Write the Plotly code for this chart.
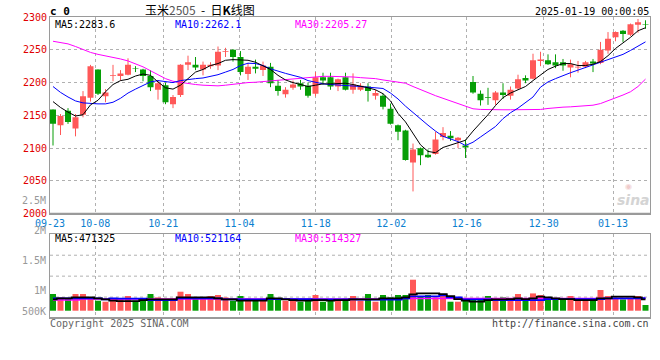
import plotly.graph_objects as go

# ---------------- data ----------------
opens = [2159, 2135, 2157, 2130, 2151, 2177, 2220, 2179, 2210, 2210,
         2212, 2222, 2220, 2210, 2189, 2196, 2167, 2181, 2227, 2227,
         2220, 2225, 2226, 2247, 2250, 2239, 2213, 2224, 2219, 2224,
         2195, 2182, 2192, 2199, 2195, 2183, 2208, 2208, 2194, 2208,
         2189, 2189, 2194, 2180, 2180, 2160, 2135, 2127, 2078, 2100,
         2090, 2091, 2117, 2119, 2112, 2104, 2201, 2183, 2178, 2173,
         2185, 2180, 2191, 2207, 2206, 2233, 2234, 2231, 2231, 2223,
         2223, 2224, 2232, 2230, 2249, 2269, 2279, 2273, 2288, 2289]
highs = [2159, 2152, 2161, 2152, 2187, 2227, 2220, 2190, 2227, 2219,
         2237, 2225, 2221, 2219, 2204, 2200, 2181, 2228, 2241, 2239,
         2232, 2231, 2255, 2253, 2251, 2248, 2230, 2235, 2232, 2230,
         2204, 2193, 2203, 2204, 2200, 2216, 2215, 2215, 2206, 2215,
         2214, 2199, 2199, 2189, 2183, 2168, 2136, 2128, 2107, 2101,
         2098, 2125, 2132, 2126, 2117, 2113, 2210, 2188, 2192, 2187,
         2199, 2194, 2212, 2211, 2244, 2247, 2243, 2243, 2236, 2235,
         2233, 2233, 2236, 2262, 2277, 2278, 2280, 2290, 2297, 2295]
lows = [2104, 2120, 2137, 2118, 2147, 2171, 2181, 2170, 2202, 2203,
        2211, 2216, 2202, 2187, 2174, 2167, 2161, 2178, 2219, 2219,
        2211, 2221, 2219, 2239, 2232, 2211, 2204, 2214, 2210, 2193,
        2180, 2177, 2189, 2189, 2177, 2179, 2197, 2189, 2187, 2188,
        2183, 2187, 2171, 2174, 2159, 2136, 2112, 2081, 2034, 2074,
        2085, 2090, 2112, 2111, 2100, 2085, 2183, 2165, 2166, 2166,
        2175, 2174, 2189, 2199, 2205, 2225, 2227, 2222, 2218, 2208,
        2215, 2222, 2216, 2228, 2244, 2263, 2262, 2271, 2276, 2282]
closes = [2137, 2149, 2140, 2147, 2179, 2225, 2183, 2185, 2211, 2214,
          2227, 2221, 2210, 2193, 2199, 2170, 2178, 2227, 2231, 2223,
          2227, 2227, 2247, 2248, 2239, 2216, 2224, 2221, 2226, 2199,
          2187, 2189, 2197, 2194, 2180, 2208, 2203, 2194, 2205, 2189,
          2197, 2195, 2187, 2184, 2163, 2137, 2125, 2082, 2098, 2089,
          2086, 2113, 2123, 2115, 2116, 2101, 2185, 2173, 2177, 2185,
          2181, 2189, 2205, 2203, 2234, 2235, 2228, 2226, 2226, 2228,
          2224, 2231, 2229, 2250, 2267, 2277, 2274, 2289, 2292, 2288]

ma5 = [2171, 2162, 2155, 2149, 2151, 2166, 2173, 2186, 2197, 2203,
       2205, 2210, 2213, 2211, 2201, 2192, 2190, 2196, 2206, 2216,
       2220, 2226, 2229, 2234, 2235, 2234, 2234, 2231, 2226, 2220,
       2211, 2204, 2200, 2197, 2194, 2196, 2198, 2198, 2199, 2199,
       2197, 2195, 2192, 2189, 2183, 2172, 2153, 2140, 2122, 2105,
       2095, 2093, 2101, 2105, 2109, 2112, 2126, 2138, 2151, 2165,
       2177, 2184, 2189, 2194, 2203, 2212, 2220, 2225, 2229, 2229,
       2226, 2226, 2228, 2232, 2241, 2252, 2260, 2269, 2279, 2283.6]
ma10 = [2194, 2185, 2178, 2172, 2169, 2168, 2167.5, 2167.5, 2170, 2176,
        2184, 2190, 2196, 2201, 2203, 2202, 2200, 2203, 2205, 2206,
        2207, 2209, 2212, 2216, 2220, 2226, 2229.5, 2229, 2226, 2221,
        2217, 2214, 2211, 2208, 2203, 2200, 2198, 2197, 2196.5, 2196,
        2195, 2194, 2193, 2192, 2191, 2184, 2175, 2164, 2154, 2145,
        2135, 2126, 2118, 2114, 2110, 2104, 2109, 2117, 2125, 2133,
        2145, 2154, 2161, 2169, 2178, 2193, 2201, 2206, 2211, 2215,
        2219, 2223, 2226, 2230, 2234, 2238, 2243, 2249, 2255, 2262.1]
ma30 = [2263, 2261, 2259, 2255, 2250, 2246, 2243, 2241, 2239, 2236,
        2233, 2229, 2224, 2218, 2212, 2206, 2202, 2200, 2199, 2197,
        2196, 2195.5, 2195, 2196, 2197.5, 2199, 2200, 2200.5, 2201.5, 2203,
        2204, 2204.5, 2205.5, 2206, 2207, 2209, 2209.5, 2209.5, 2209.5, 2209.5,
        2208.5, 2207.5, 2207, 2206, 2204, 2202, 2201, 2199, 2194, 2189,
        2184, 2180, 2176, 2172, 2167, 2163, 2160, 2159, 2158.5, 2158.5,
        2158.5, 2158.5, 2158.5, 2158.5, 2158.5, 2159, 2160.5, 2162, 2162.5, 2163,
        2163.5, 2164.5, 2165.5, 2168, 2172, 2176, 2181, 2186, 2194, 2205.27]

volumes = [696000, 555000, 513000, 696000, 696000, 555000, 417000, 375000, 513000, 513000,
           613000, 417000, 513000, 696000, 555000, 471000, 513000, 792000, 696000, 555000,
           513000, 613000, 655000, 555000, 417000, 613000, 513000, 417000, 513000, 696000,
           513000, 417000, 513000, 375000, 417000, 655000, 375000, 417000, 417000, 513000,
           613000, 417000, 696000, 375000, 655000, 555000, 655000, 655000, 1293000, 613000,
           655000, 555000, 696000, 375000, 375000, 417000, 471000, 471000, 613000, 417000,
           555000, 417000, 696000, 471000, 721000, 655000, 446000, 446000, 471000, 613000,
           471000, 471000, 471000, 863000, 613000, 513000, 471000, 513000, 613000, 238000]
vol_ma5 = [473000, 514000, 514000, 556000, 556000, 556000, 514000, 473000, 417000, 403000,
           403000, 403000, 445000, 473000, 473000, 473000, 473000, 556000, 556000, 556000,
           556000, 556000, 514000, 473000, 473000, 417000, 417000, 417000, 417000, 514000,
           514000, 473000, 445000, 417000, 417000, 445000, 445000, 417000, 445000, 445000,
           473000, 473000, 473000, 473000, 514000, 514000, 514000, 556000, 681000, 723000,
           723000, 723000, 695000, 612000, 487000, 417000, 375000, 375000, 445000, 473000,
           473000, 487000, 514000, 487000, 514000, 584000, 556000, 514000, 487000, 487000,
           445000, 445000, 445000, 514000, 514000, 584000, 584000, 584000, 556000, 471325]
vol_ma10 = [514000, 514000, 514000, 514000, 514000, 514000, 514000, 473000, 514000, 500000,
            500000, 500000, 500000, 445000, 445000, 445000, 445000, 514000, 514000, 514000,
            514000, 514000, 514000, 473000, 473000, 473000, 473000, 473000, 473000, 486000,
            486000, 486000, 486000, 486000, 486000, 473000, 473000, 473000, 473000, 473000,
            473000, 460000, 460000, 460000, 460000, 460000, 460000, 514000, 600000, 600000,
            600000, 600000, 640000, 556000, 556000, 473000, 473000, 473000, 473000, 445000,
            445000, 445000, 445000, 445000, 445000, 445000, 486000, 486000, 486000, 486000,
            486000, 486000, 486000, 486000, 514000, 514000, 514000, 514000, 514000, 521164]
vol_ma30 = [445000] * 4 + [486000] * 43 + [514000] * 32 + [514327]

date_labels = ["09-23", "10-08", "10-21", "11-04", "11-18", "12-02", "12-16", "12-30", "01-13"]
date_tick_pos = [-0.39, 5.64, 14.71, 24.87, 35.03, 45.11, 55.16, 65.43, 74.67]
price_ticks = [2000, 2050, 2100, 2150, 2200, 2250, 2300]
vol_axis_labels = ["2.5M", "2M", "1.5M", "1M", "500K"]
price_legend = ["MA5:2283.6", "MA10:2262.1", "MA30:2205.27"]
vol_legend = ["MA5:471325", "MA10:521164", "MA30:514327"]
title_name, title_code, title_rest = "玉米", "2505", "  -  日<b>K</b>线图"
symbol_text = "c 0"
stamp_text = "2025-01-19 00:00:05"
copyright_text = "Copyright 2025 SINA.COM"
url_text = "http://finance.sina.com.cn"

# ---------------- styling ----------------
RED = "#ff5858"
GREEN = "#069e06"
MONO = "DejaVu Sans Mono, monospace"
GRID = "#b0b0b0"
BORDER = "#9a9a9a"

idx = list(range(len(closes)))
colors = [RED if c >= o else GREEN for o, c in zip(opens, closes)]

fig = go.Figure()

# wicks
for col in (RED, GREEN):
    xs, ys = [], []
    for i, (h, l, c) in enumerate(zip(highs, lows, colors)):
        if c == col:
            xs += [i, i, None]
            ys += [l, h, None]
    fig.add_trace(go.Scatter(x=xs, y=ys, mode="lines", line=dict(color=col, width=1),
                             hoverinfo="skip", xaxis="x", yaxis="y"))

# bodies
fig.add_trace(go.Bar(x=idx, y=[abs(c - o) for o, c in zip(opens, closes)],
                     base=[min(o, c) for o, c in zip(opens, closes)],
                     width=0.8, marker=dict(color=colors, line=dict(width=0)),
                     xaxis="x", yaxis="y"))

# price MAs
for vals, col in ((ma30, "#ff00ff"), (ma10, "#0000ff"), (ma5, "#000000")):
    fig.add_trace(go.Scatter(x=idx, y=vals, mode="lines", line=dict(color=col, width=1),
                             xaxis="x", yaxis="y"))

# volume bars
fig.add_trace(go.Bar(x=idx, y=volumes, width=0.8, marker=dict(color=colors, line=dict(width=0)),
                     xaxis="x2", yaxis="y2"))
for vals, col, w in ((vol_ma30, "#ff00ff", 1.5), (vol_ma10, "#0000ff", 1.8), (vol_ma5, "#000000", 1.8)):
    fig.add_trace(go.Scatter(x=idx, y=vals, mode="lines", line=dict(color=col, width=w, shape="hvh"),
                             xaxis="x2", yaxis="y2"))

# ---------------- layout ----------------
W, H = 660, 360
ML, MR, MT, MB = 50, 10, 17, 42
PW, PH = W - ML - MR, H - MT - MB


def at(x, y):
    return dict(x=(x - ML) / PW, y=(H - MB - y) / PH, xref="paper", yref="paper")


price_dom = [(H - MB - 213.7) / PH, 1]
vol_dom = [0, (H - MB - 234.3) / PH]

xcommon = dict(range=[-0.4, 79.6], tickmode="array", tickvals=date_tick_pos,
               showgrid=True, gridcolor=GRID, griddash="dot", gridwidth=1,
               showline=True, mirror=True, linecolor=BORDER, linewidth=1,
               zeroline=False, ticks="", fixedrange=True, automargin=False)

fig.update_layout(
    width=W, height=H,
    margin=dict(l=ML, r=MR, t=MT, b=MB, autoexpand=False),
    paper_bgcolor="white", plot_bgcolor="white",
    showlegend=False, barmode="overlay",
    xaxis=dict(xcommon, anchor="y", ticktext=date_labels,
               tickfont=dict(family=MONO, size=10, color="#0a80d0")),
    xaxis2=dict(xcommon, anchor="y2", matches="x", showticklabels=False),
    yaxis=dict(domain=price_dom, range=[2000, 2300], tickmode="array", tickvals=price_ticks,
               tickfont=dict(family=MONO, size=10, color="#e00000"),
               showgrid=True, gridcolor=GRID, griddash="dot", automargin=False,
               showline=True, mirror=True, linecolor=BORDER, zeroline=False, ticks="",
               fixedrange=True),
    yaxis2=dict(domain=vol_dom, range=[-304000, 3186000], showticklabels=False,
                showgrid=False, showline=True, mirror=True, linecolor=BORDER,
                zeroline=False, ticks="", automargin=False, fixedrange=True),
)

shapes = []
for f in (0.25, 0.5, 0.75):
    shapes.append(dict(type="line", xref="x2 domain", yref="y2 domain", x0=0, x1=1, y0=f, y1=f,
                       line=dict(color=GRID, width=1, dash="dot"), layer="below"))
for yr in ("y domain", "y2 domain"):
    shapes.append(dict(type="line", xref="x domain", yref=yr, x0=0, x1=1, y0=0, y1=0,
                       line=dict(color=BORDER, width=2)))
fig.update_layout(shapes=shapes)

ann = []


def text(t, x, y, color="#000", size=10, anchor="left", family=MONO):
    d = at(x, y)
    d.update(text=t, showarrow=False, xanchor=anchor, yanchor="middle",
             font=dict(family=family, size=size, color=color))
    ann.append(d)


text("<b>" + symbol_text + "</b>", 48, 11.5, size=11)
text(title_name + "<span style='color:#555'>" + title_code + "</span>" + title_rest,
     200, 9.5, size=12, anchor="center", family="Noto Sans CJK SC")
text(stamp_text, 651, 11.5, anchor="right")
for t, x, c in zip(price_legend, (53, 173, 293), ("#000000", "#0000ff", "#ff00ff")):
    text(t, x, 24, color=c)
for t, x, c in zip(vol_legend, (53, 173, 293), ("#000000", "#0000ff", "#ff00ff")):
    text(t, x, 238, color=c)
for t, y in zip(vol_axis_labels, (200.5, 230.5, 260.5, 290, 311)):
    text(t, 48, y, color="#999999", anchor="right")
text(copyright_text, 48, 323.5, color="#666666")
text(url_text, 651, 323.5, color="#444444", anchor="right")
text("<b><i>sina</i></b>", 633, 200, color="#d4d4d4", size=14, anchor="center", family="DejaVu Sans")
text("◉", 628, 187, color="#f0cccc", size=8, anchor="center", family="DejaVu Sans")

fig.update_layout(annotations=ann)

fig.write_html("out.html", config={"displayModeBar": False, "staticPlot": True},
               post_script="document.body.style.margin='0px';document.body.style.overflow='hidden';")
